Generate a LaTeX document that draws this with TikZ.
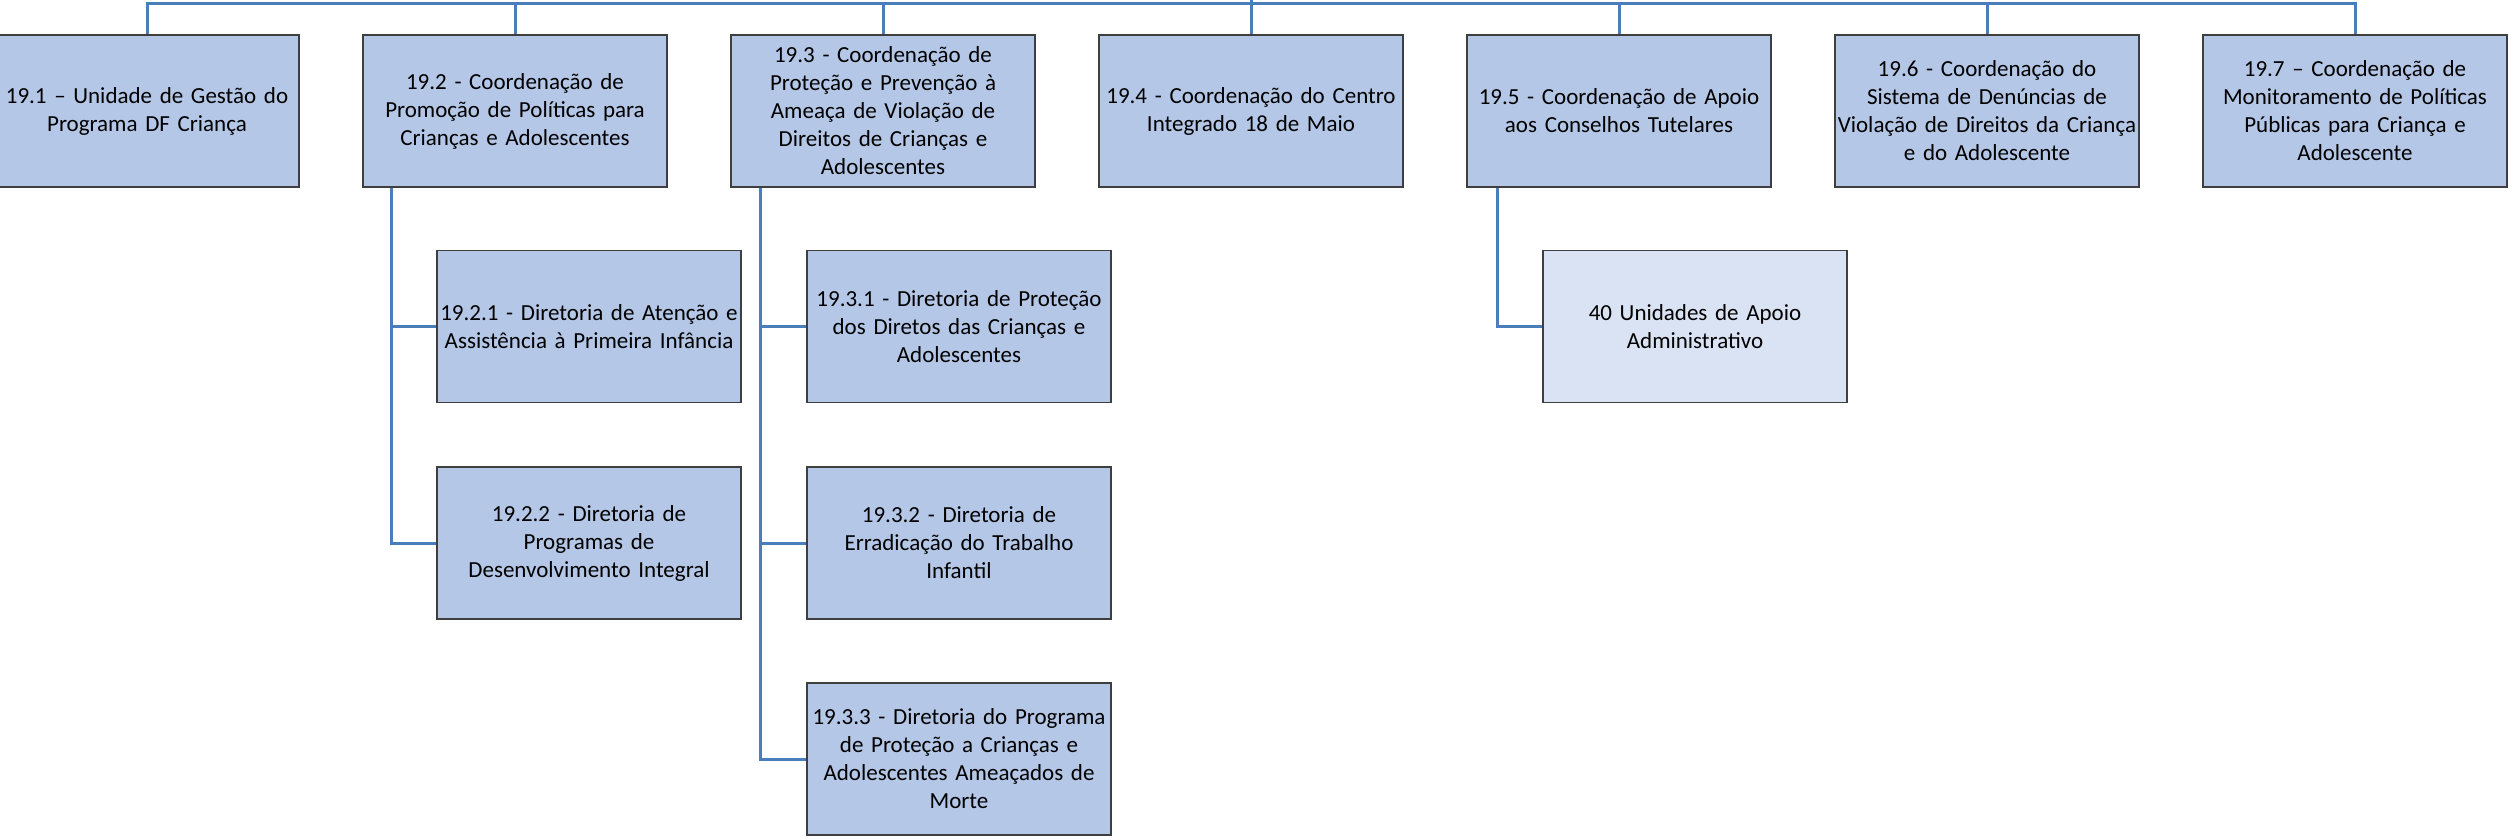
\documentclass[tikz,border=0pt]{standalone}
\usepackage{fontspec}
\setmainfont{Carlito}
\definecolor{boxfill}{HTML}{B4C7E7}
\definecolor{lightfill}{HTML}{DAE3F3}
\definecolor{connblue}{HTML}{4A7EBB}
\definecolor{boxborder}{HTML}{3F3F3F}
\newcommand{\wideline}[1]{\makebox[\linewidth][c]{#1}}
\begin{document}
\begin{tikzpicture}[x=1pt,y=-1pt,
  unit/.style={draw=boxborder, line width=1.8pt, fill=boxfill, rectangle,
    minimum width=304pt, minimum height=152pt, inner sep=0pt,
    text width=300pt, align=center,
    font=\fontsize{23}{28}\selectfont},
  lightunit/.style={unit, fill=lightfill},
  conn/.style={draw=connblue, line width=3pt}]
\useasboundingbox (0,0) rectangle (2509,840);
% level 1
\node[unit] (b1) at (147,111) {19.1 – Unidade de Gestão do\\Programa DF Criança};
\node[unit] (b2) at (515,111) {19.2 - Coordenação de\\Promoção de Políticas para\\Crianças e Adolescentes};
\node[unit] (b3) at (883,111) {19.3 - Coordenação de\\Proteção e Prevenção à\\Ameaça de Violação de\\Direitos de Crianças e\\Adolescentes};
\node[unit] (b4) at (1251,111) {19.4 - Coordenação do Centro\\Integrado 18 de Maio};
\node[unit] (b5) at (1619,111) {19.5 - Coordenação de Apoio\\aos Conselhos Tutelares};
\node[unit] (b6) at (1987,111) {19.6 - Coordenação do\\Sistema de Denúncias de\\\wideline{Violação de Direitos da Criança}\\e do Adolescente};
\node[unit] (b7) at (2355,111) {19.7 – Coordenação de\\Monitoramento de Políticas\\Públicas para Criança e\\Adolescente};
% level 2
\node[unit] (b21) at (589,326.5) {\wideline{19.2.1 - Diretoria de Atenção e}\\\wideline{Assistência à Primeira Infância}};
\node[unit] (b22) at (589,543) {19.2.2 - Diretoria de\\Programas de\\Desenvolvimento Integral};
\node[unit] (b31) at (959,326.5) {\wideline{19.3.1 - Diretoria de Proteção}\\dos Diretos das Crianças e\\Adolescentes};
\node[unit] (b32) at (959,543) {19.3.2 - Diretoria de\\Erradicação do Trabalho\\Infantil};
\node[unit] (b33) at (959,759) {\wideline{19.3.3 - Diretoria do Programa}\\de Proteção a Crianças e\\\wideline{Adolescentes Ameaçados de}\\Morte};
\node[lightunit] (b51) at (1695,326.5) {40 Unidades de Apoio\\Administrativo};
% connectors
\coordinate (root) at (1251,-10);
\coordinate (bus) at (1251,4);
\draw[conn] (root) -- (bus);
\draw[conn] (b1.north) |- (bus) -| (b7.north);
\foreach \n in {b2,b3,b4,b5,b6}
  \draw[conn] (\n.north) -- (\n.north |- bus);
\draw[conn] ([xshift=29pt]b2.south west) |- (b21.west);
\draw[conn] ([xshift=29pt]b2.south west) |- (b22.west);
\draw[conn] ([xshift=30pt]b3.south west) |- (b31.west);
\draw[conn] ([xshift=30pt]b3.south west) |- (b32.west);
\draw[conn] ([xshift=30pt]b3.south west) |- (b33.west);
\draw[conn] ([xshift=31pt]b5.south west) |- (b51.west);
\end{tikzpicture}
\end{document}
